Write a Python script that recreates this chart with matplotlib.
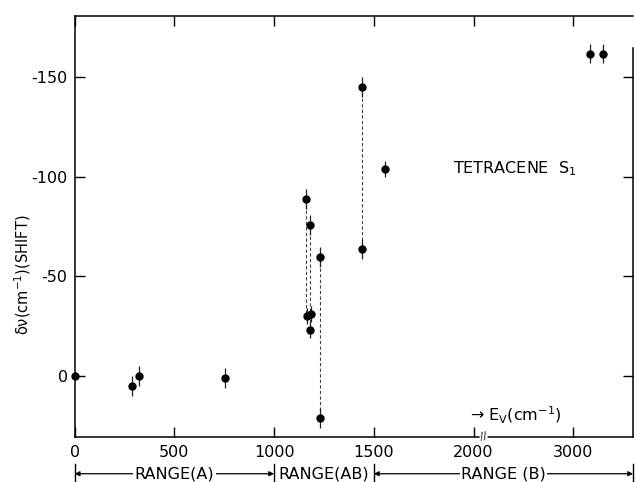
import numpy as np
import matplotlib
matplotlib.use('Agg')
from matplotlib import pyplot as plt

ev = [0, 289, 321, 754, 1162, 1167, 1178, 1180, 1184, 1228, 1229, 1442, 1442, 1556, 3165, 3300]
shift = [0, 5, 0, 1, -89, -30, -23, -76, -31, 21, -60, -145, -64, -104, -162, -162]
shift_err = [0, 5, 5, 5, 5, 4, 4, 5, 4, 5, 5, 5, 5, 4, 5, 5]

# dashed connectors between pairs of bands
dash_x = [1162, 1180, 1228, 1442]
dash_top = [-89, -76, -60, -145]
dash_bottom = [-30, -23, 21, -64]

xticks = [0, 500, 1000, 1500, 2000, 3000]
yticks = [-150, -100, -50, 0]

range_names = ['RANGE(A)', 'RANGE(AB)', 'RANGE (B)']
range_edges = [0, 1000, 1500, 3600]


def forward(x):
    x = np.asarray(x, dtype=float)
    return np.where(x <= 2000, x, 2000 + (x - 2000) / 2.0)


def inverse(u):
    u = np.asarray(u, dtype=float)
    return np.where(u <= 2000, u, 2000 + (u - 2000) * 2.0)


plt.rcParams['axes.unicode_minus'] = False
plt.rcParams['font.family'] = 'DejaVu Sans'

fig = plt.figure(figsize=(6.35, 4.82), dpi=100)
ax = fig.add_axes([0.1176, 0.094, 0.8794, 0.8734])
ax.set_xscale('function', functions=(forward, inverse))
ax.set_xlim(0, 3600)
ax.set_ylim(30.5, -181)

for x, y0, y1 in zip(dash_x, dash_top, dash_bottom):
    ax.plot([x, x], [y0, y1], ls=(0, (3, 2)), color='#444444', lw=0.8, zorder=1)

ax.errorbar(ev, shift, yerr=shift_err, fmt='o', color='black', ms=5,
            elinewidth=0.9, ecolor='#222222', capsize=0, zorder=3, clip_on=False)

ax.set_xticks(xticks)
ax.set_xticklabels([str(t) for t in xticks])
ax.set_yticks(yticks)
ax.set_yticklabels([str(t) for t in yticks])
ax.tick_params(direction='in', length=7, width=1.0, labelsize=11.5,
               top=True, right=True, pad=5)
ax.tick_params(axis='x', pad=6)
for s in ax.spines.values():
    s.set_linewidth(1.1)
ax.spines['right'].set_bounds(30.5, -165)

# axis break mark
ax.text(2100, 0, '//', transform=ax.get_xaxis_transform(), fontsize=7,
        ha='center', va='center', rotation=10, zorder=5,
        bbox=dict(facecolor='white', edgecolor='none', pad=0.5), clip_on=False)

ax.text(1897, -104, 'TETRACENE  S$_\\mathregular{1}$', fontsize=11.5, ha='left', va='center')
ax.text(1982, 19.6, '\u2192 E$_\\mathregular{V}$(cm$^{-1}$)', fontsize=11.5, ha='left', va='center')

fig.text(0.035, 0.43, '\u03b4\u03bd(cm$^{-1}$)(SHIFT)', rotation=90, fontsize=10.5,
         ha='center', va='center')

# range annotations under the axis
ry = -0.088
tr = ax.get_xaxis_transform()
for i, name in enumerate(range_names):
    x0, x1 = range_edges[i], range_edges[i + 1]
    if name != 'RANGE(AB)':
        ax.annotate('', xy=(x0, ry), xytext=(x1, ry), xycoords=tr, textcoords=tr,
                    arrowprops=dict(arrowstyle='<|-|>', color='black', lw=0.9,
                                    mutation_scale=7, shrinkA=0, shrinkB=0),
                    annotation_clip=False)
    xm = inverse(0.5 * (forward(x0) + forward(x1)))
    ax.text(float(xm), ry, name, transform=tr, fontsize=11.5, ha='center', va='center',
            bbox=dict(facecolor='white', edgecolor='none', pad=1.0), clip_on=False)
for x in range_edges:
    ax.plot([x, x], [ry - 0.022, ry + 0.022], transform=tr, color='black',
            lw=1.0, clip_on=False)

fig.savefig('out.png', dpi=100)
